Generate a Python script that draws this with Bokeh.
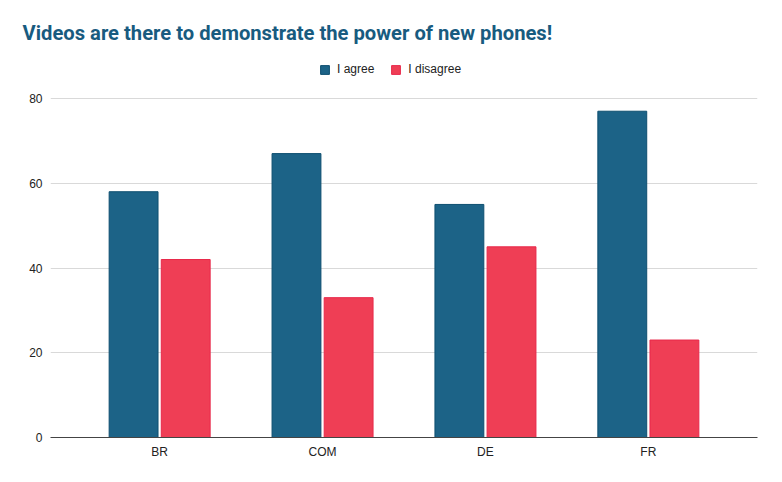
from bokeh.plotting import figure
from bokeh.models import FactorRange, Range1d, FixedTicker, Legend, LegendItem, ColumnDataSource
from bokeh.transform import dodge
from bokeh.embed import file_html
from bokeh.resources import INLINE

categories = ["BR", "COM", "DE", "FR"]
agree = [58, 67, 55, 77]
disagree = [42, 33, 45, 23]
series_names = ["I agree", "I disagree"]
y_ticks = [0, 20, 40, 60, 80]

AGREE_COLOR = "#1c6387"
DIS_COLOR = "#ef3e55"
LABEL_FONT = "Liberation Sans"

src = ColumnDataSource(dict(cat=categories, agree=agree, disagree=disagree))

p = figure(width=782, height=482, output_backend="svg", toolbar_location=None,
           x_range=FactorRange(*categories, range_padding=0.085),
           y_range=Range1d(0, 90.15),
           min_border_left=50, min_border_right=25, min_border_bottom=45, min_border_top=55)

r1 = p.vbar(x=dodge("cat", -0.16, range=p.x_range), top="agree", width=0.3, source=src,
            fill_color=AGREE_COLOR, line_color="#0e4f70", line_width=1)
r2 = p.vbar(x=dodge("cat", 0.16, range=p.x_range), top="disagree", width=0.3, source=src,
            fill_color=DIS_COLOR, line_color="#e8284a", line_width=1)

p.title.text = "Videos are there to demonstrate the power of new phones!"
p.title.text_font = "Roboto"
p.title.text_font_size = "20.2px"
p.title.text_font_style = "bold"
p.title.text_color = "#185b7f"
p.title.offset = -28
p.title.standoff = 21

legend = Legend(items=[LegendItem(label=series_names[0], renderers=[r1]),
                       LegendItem(label=series_names[1], renderers=[r2])],
                orientation="horizontal", location=(269, 361),
                label_text_font=LABEL_FONT, label_text_font_size="12px", label_text_color="#222222",
                glyph_width=11, glyph_height=11, spacing=16, label_standoff=7,
                border_line_color=None, background_fill_alpha=0, margin=0, padding=3)
p.add_layout(legend)

p.outline_line_color = None
p.xgrid.grid_line_color = None
p.ygrid.grid_line_color = "#d9d9d9"
p.ygrid.grid_line_width = 1
p.yaxis.ticker = FixedTicker(ticks=y_ticks)
p.yaxis.axis_line_color = None
p.yaxis.major_tick_line_color = None
p.yaxis.minor_tick_line_color = None
p.yaxis.major_tick_out = 0
p.yaxis.major_label_standoff = 8
p.yaxis.major_label_text_font = LABEL_FONT
p.yaxis.major_label_text_font_size = "12px"
p.yaxis.major_label_text_color = "#222222"
p.xaxis.axis_line_color = "#444444"
p.xaxis.axis_line_width = 1
p.xaxis.major_tick_line_color = None
p.xaxis.minor_tick_line_color = None
p.xaxis.major_tick_out = 0
p.xaxis.major_label_standoff = 7
p.xaxis.major_label_text_font = LABEL_FONT
p.xaxis.major_label_text_font_size = "12px"
p.xaxis.major_label_text_color = "#222222"

open("out.html", "w").write(file_html(p, INLINE))
